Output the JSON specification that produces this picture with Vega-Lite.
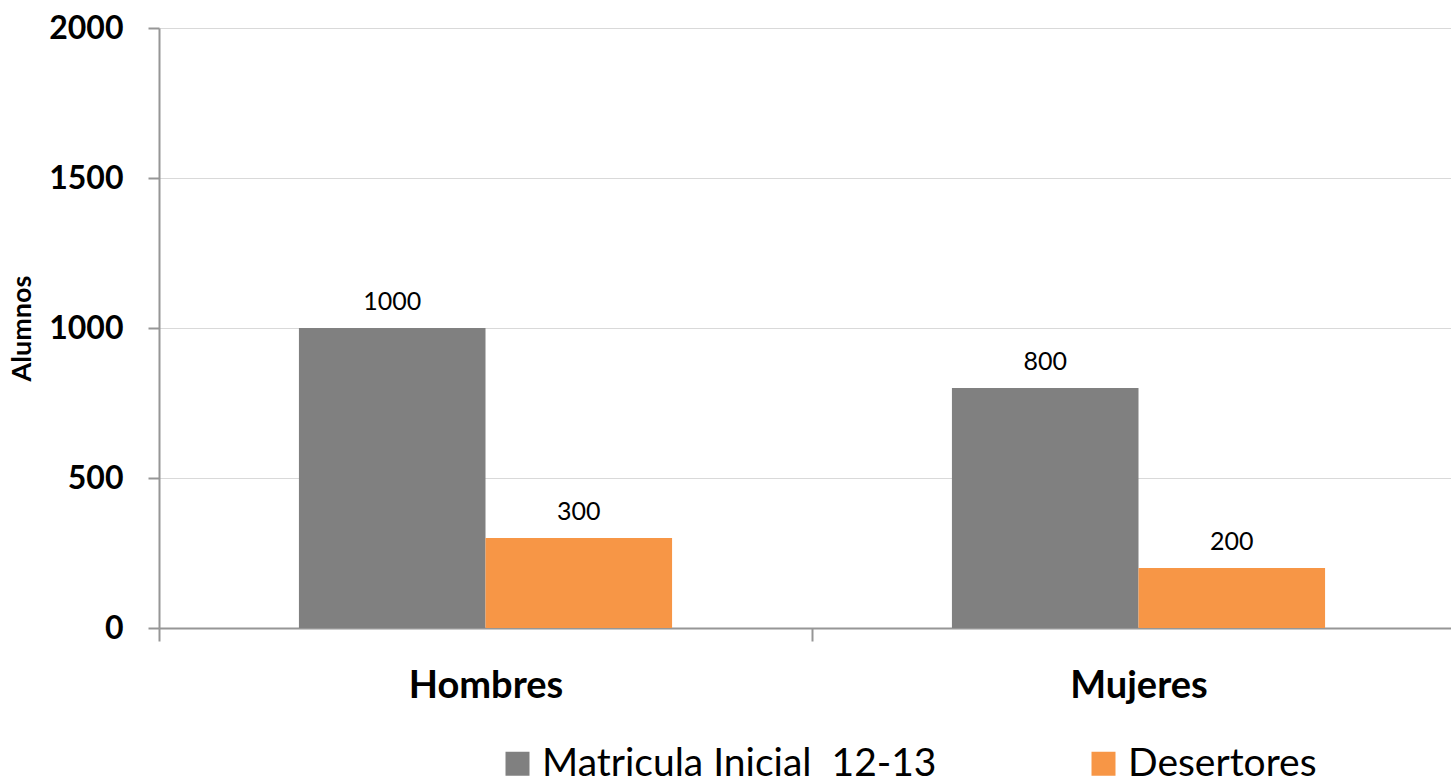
{
  "$schema": "https://vega.github.io/schema/vega-lite/v6.json",
  "autosize": {"type": "none"},
  "padding": {"left": 159, "top": 28, "right": 0, "bottom": 154},
  "width": 1292,
  "height": 600,
  "background": "white",
  "config": {
    "view": {"stroke": null},
    "font": "Lato"
  },
  "data": {
    "values": [
      {"grupo": "Hombres", "serie": "Matricula Inicial  12-13", "alumnos": 1000},
      {"grupo": "Hombres", "serie": "Desertores", "alumnos": 300},
      {"grupo": "Mujeres", "serie": "Matricula Inicial  12-13", "alumnos": 800},
      {"grupo": "Mujeres", "serie": "Desertores", "alumnos": 200}
    ]
  },
  "encoding": {
    "x": {
      "field": "grupo",
      "type": "nominal",
      "sort": ["Hombres", "Mujeres"],
      "scale": {"range": [0, 1306], "paddingInner": 0, "paddingOuter": 0},
      "axis": {
        "title": null,
        "labelAngle": 0,
        "labelFont": "Lato",
        "labelFontSize": 38,
        "labelFontWeight": "bold",
        "labelColor": "black",
        "labelPadding": 26,
        "tickBand": "extent",
        "tickSize": 13,
        "tickColor": "#969696",
        "tickWidth": 2,
        "domainColor": "#969696",
        "domainWidth": 2,
        "grid": false
      }
    },
    "xOffset": {
      "field": "serie",
      "type": "nominal",
      "sort": ["Matricula Inicial  12-13", "Desertores"],
      "scale": {"paddingInner": 0, "paddingOuter": 0.75}
    },
    "y": {
      "field": "alumnos",
      "type": "quantitative",
      "scale": {"domain": [0, 2000], "nice": false},
      "axis": {
        "title": "Alumnos",
        "titleFont": "Lato",
        "titleFontSize": 27,
        "titleFontWeight": "bold",
        "titleColor": "black",
        "titlePadding": 12,
        "values": [0, 500, 1000, 1500, 2000],
        "format": "d",
        "labelFont": "Lato",
        "labelFontSize": 32,
        "labelFontWeight": "bold",
        "labelColor": "black",
        "labelPadding": 25,
        "tickSize": 11,
        "tickColor": "#969696",
        "tickWidth": 2,
        "domainColor": "#969696",
        "domainWidth": 2,
        "gridColor": "#d9d9d9",
        "gridWidth": 1
      }
    }
  },
  "layer": [
    {
      "mark": {"type": "bar"},
      "encoding": {
        "color": {
          "field": "serie",
          "type": "nominal",
          "sort": ["Matricula Inicial  12-13", "Desertores"],
          "scale": {"domain": ["Matricula Inicial  12-13", "Desertores"], "range": ["#808080", "#F79646"]},
          "legend": {
            "title": null,
            "orient": "none",
            "direction": "horizontal",
            "legendX": 339,
            "legendY": 716,
            "symbolType": "square",
            "symbolSize": 576,
            "symbolStrokeWidth": 0,
            "labelFont": "Lato",
            "labelFontSize": 39,
            "labelColor": "black",
            "labelLimit": 600,
            "labelOffset": 5,
            "labelExpr": "replace(datum.label, '  ', ' \u00a0')",
            "columnPadding": 147
          }
        }
      }
    },
    {
      "mark": {"type": "text", "baseline": "bottom", "dy": -13, "fontSize": 25, "font": "Lato", "color": "black"},
      "encoding": {
        "text": {"field": "alumnos", "type": "quantitative"}
      }
    }
  ]
}
